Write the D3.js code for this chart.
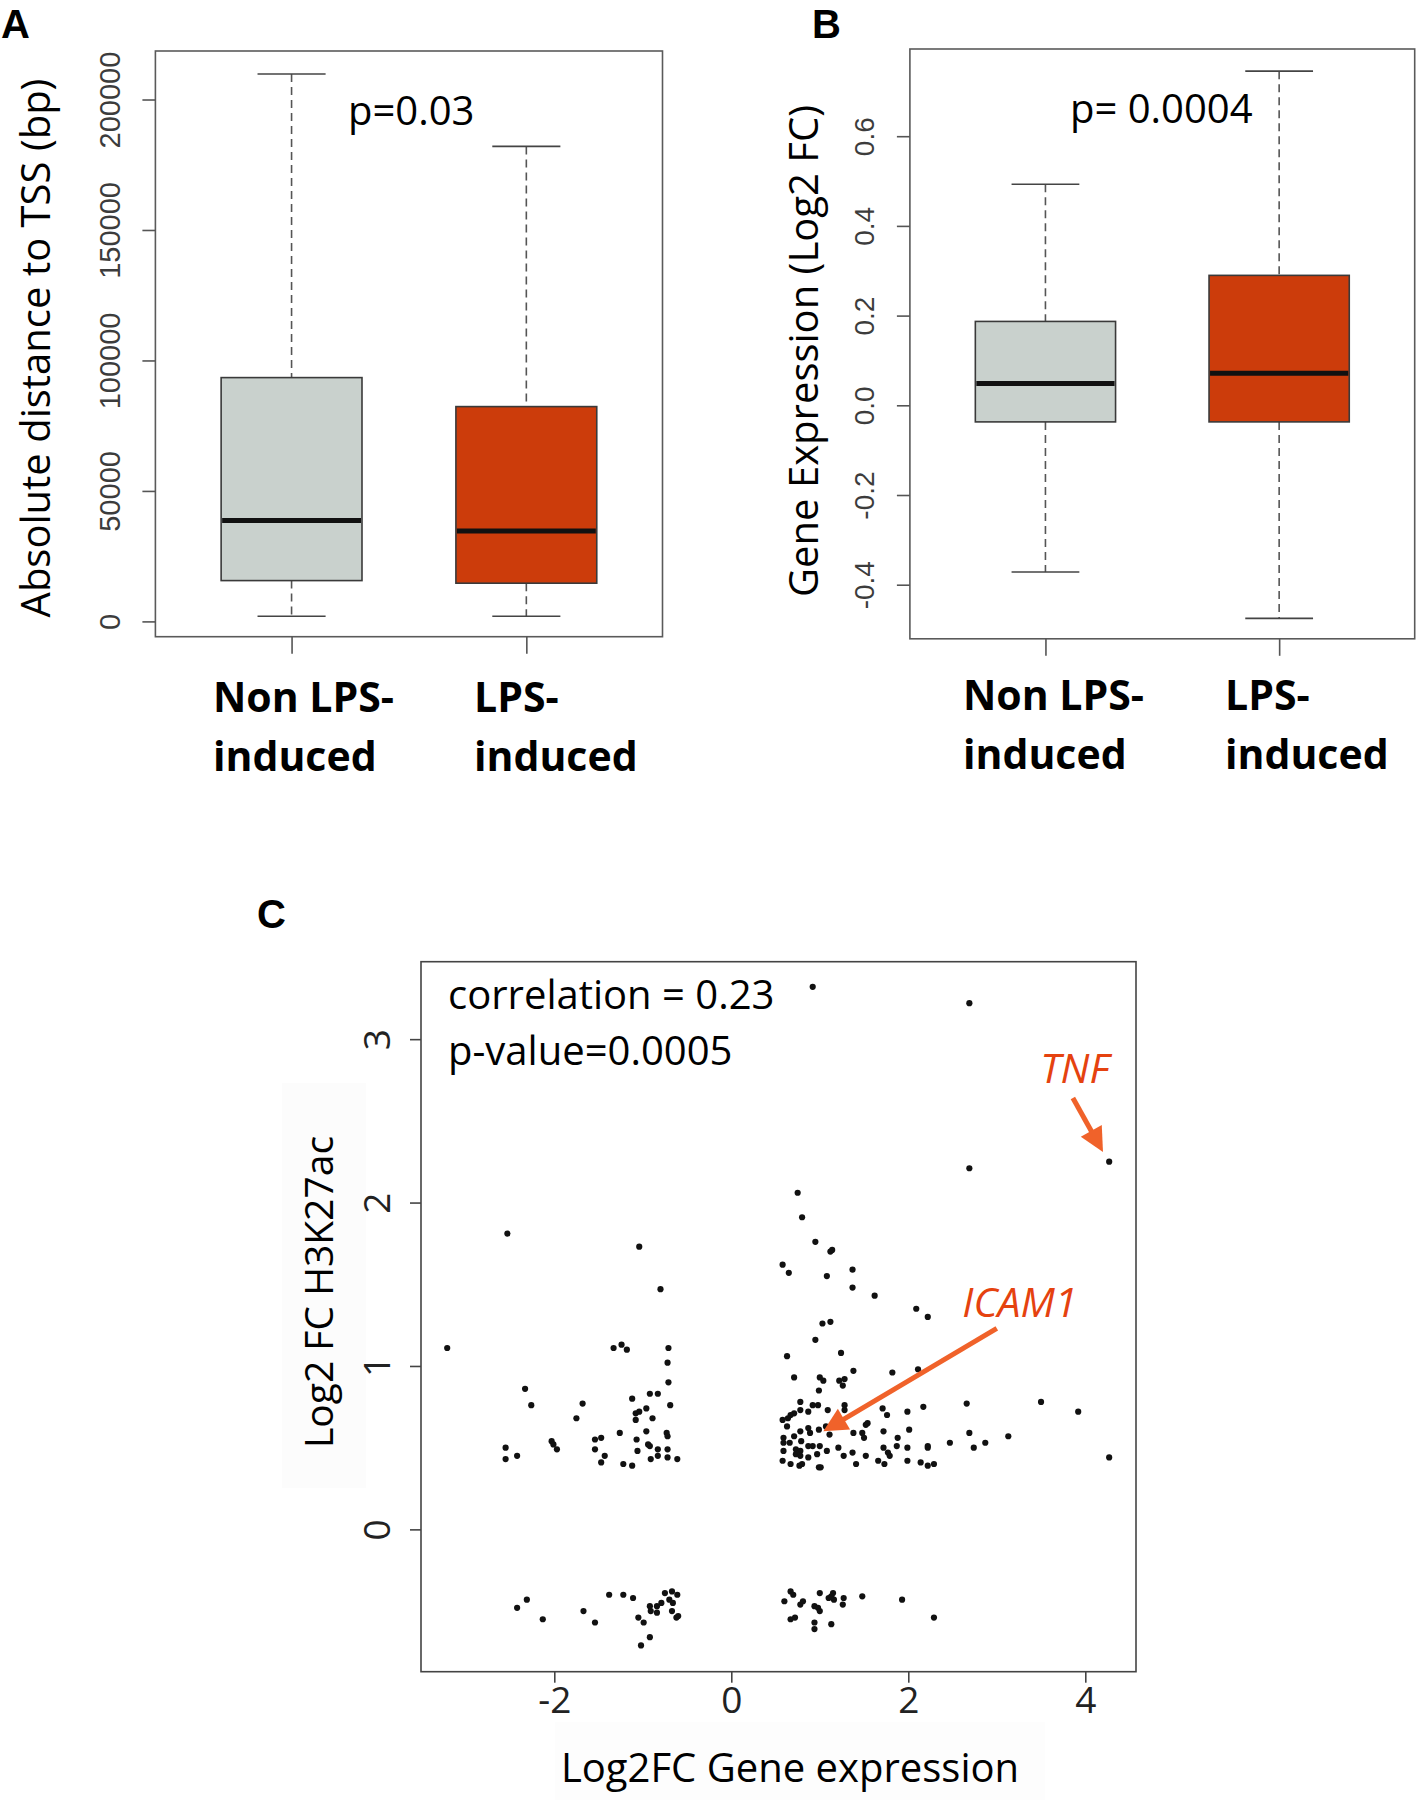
<!DOCTYPE html>
<html><head><meta charset="utf-8">
<script src="https://cdn.jsdelivr.net/npm/d3@7"></script>
<style>body{margin:0;background:#fff} svg{display:block}</style>
</head><body>
<svg id="chart" width="1417" height="1812"></svg>
<script>
// ---------------- DATA ----------------
const boxCategories = [["Non LPS-", "induced"], ["LPS-", "induced"]];
// [lower whisker, Q1, median, Q3, upper whisker]
const distanceNonLPS = [1950, 15640, 38700, 93430, 209780];
const distanceLPS    = [1950, 14640, 34600, 82320, 182030];
const distanceTicks  = [0, 50000, 100000, 150000, 200000];
const distanceTickLabels = ["0", "50000", "100000", "150000", "200000"];

const expressionNonLPS = [-0.3715, -0.037, 0.0485, 0.187, 0.493];
const expressionLPS    = [-0.475, -0.037, 0.0712, 0.2897, 0.745];
const expressionTicks  = [-0.4, -0.2, 0.0, 0.2, 0.4, 0.6];
const expressionTickLabels = ["-0.4", "-0.2", "0.0", "0.2", "0.4", "0.6"];

const boxFills = ["#c9d1cd", "#cc3c0b"];

// Panel C scatter: Log2FC gene expression (x) vs Log2FC H3K27ac (y)
const geneExprLog2FC = [
  0.92, 2.69, 2.69, 4.27,
  -2.53,-1.04,-0.80,-3.21,-1.33,-1.24,-1.18,-0.71,-0.72,-0.71,-2.33,-2.26,-1.68,-1.75,-1.12,-0.92,-0.83,-0.69,-1.08,-1.04,-0.96,-1.08,-0.89,-1.26,-0.96,-0.73,-0.72,-1.07,-0.94,-0.92,-0.83,-0.72,-0.83,-0.72,-0.61,-0.91,-1.06,-2.03,-2.01,-1.97,-1.54,-1.47,-1.54,-1.43,-1.47,-1.22,-1.12,-2.55,-2.55,-2.42,
  0.75,0.80,0.95,1.12,1.14,0.58,0.65,1.08,1.37,1.37,1.62,2.09,2.22,1.03,1.12,0.95,0.63,1.24,0.71,1.00,1.04,0.99,1.22,1.26,1.28,1.38,1.82,2.11,2.66,3.50,3.92,4.27,2.17,1.99,1.71,1.76,1.28,1.28,1.09,0.98,0.92,0.87,0.78,0.78,0.71,0.67,0.64,0.58,0.63,0.87,0.78,0.89,0.99,1.07,1.11,0.71,0.59,0.59,0.66,0.79,0.87,0.92,1.00,0.73,0.78,0.59,0.73,0.78,0.87,0.97,1.08,0.58,0.67,0.77,0.80,0.99,1.01,1.21,1.27,1.37,1.41,1.52,1.38,1.48,1.50,1.52,1.54,1.72,1.88,2.01,1.72,1.77,1.79,1.87,1.99,1.66,1.73,1.99,2.14,2.22,2.22,2.22,2.29,2.47,2.69,2.74,2.87,3.13,
  -2.42,-2.31,-2.13,-1.67,-1.54,-1.38,-1.22,-1.11,-1.05,-0.99,-0.92,-1.02,-0.92,-0.91,-0.84,-0.84,-0.79,-0.75,-0.67,-0.61,-0.70,-0.66,-0.67,-0.62,-0.60,
  0.60,0.67,0.70,0.78,0.81,0.67,0.72,0.94,0.98,1.00,0.94,0.94,1.00,1.13,1.10,1.15,1.16,1.13,1.27,1.26,1.48,1.93,2.29
];
const h3k27acLog2FC = [
  3.32, 3.22, 2.21, 2.25,
  1.81,1.73,1.47,1.11,1.11,1.13,1.10,1.11,1.02,0.90,0.86,0.76,0.77,0.68,0.80,0.83,0.83,0.76,0.71,0.72,0.74,0.67,0.68,0.59,0.60,0.59,0.57,0.55,0.52,0.51,0.49,0.49,0.45,0.44,0.43,0.43,0.48,0.54,0.52,0.49,0.55,0.56,0.49,0.45,0.41,0.40,0.39,0.50,0.43,0.45,
  2.06,1.91,1.76,1.70,1.71,1.62,1.57,1.55,1.59,1.48,1.43,1.35,1.30,1.26,1.27,1.16,1.06,1.08,0.93,0.93,0.91,0.85,0.91,0.88,0.92,0.97,0.96,0.98,0.77,0.78,0.72,0.44,0.75,0.72,0.74,0.70,0.76,0.73,0.73,0.76,0.76,0.72,0.78,0.73,0.71,0.70,0.68,0.67,0.63,0.62,0.60,0.59,0.61,0.63,0.58,0.57,0.56,0.53,0.53,0.54,0.51,0.51,0.51,0.49,0.48,0.48,0.46,0.45,0.44,0.46,0.48,0.42,0.40,0.39,0.40,0.38,0.38,0.50,0.45,0.47,0.40,0.45,0.59,0.59,0.56,0.64,0.65,0.60,0.56,0.61,0.50,0.47,0.45,0.51,0.50,0.42,0.40,0.42,0.41,0.51,0.50,0.39,0.40,0.53,0.59,0.50,0.53,0.57,
  -0.48,-0.43,-0.55,-0.50,-0.57,-0.40,-0.40,-0.42,-0.54,-0.57,-0.66,-0.71,-0.47,-0.50,-0.47,-0.51,-0.45,-0.39,-0.38,-0.40,-0.43,-0.45,-0.50,-0.54,-0.53,
  -0.44,-0.38,-0.40,-0.46,-0.44,-0.55,-0.54,-0.47,-0.48,-0.50,-0.57,-0.61,-0.39,-0.58,-0.42,-0.39,-0.43,-0.41,-0.42,-0.46,-0.41,-0.43,-0.54
];
const scatterXTicks = [-2, 0, 2, 4];
const scatterXTickLabels = ["-2", "0", "2", "4"];
const scatterYTicks = [0, 1, 2, 3];
const scatterYTickLabels = ["0", "1", "2", "3"];
// annotations: [label, label x, label y, arrow start x, arrow start y, arrow tip x, arrow tip y] in data units
const annotations = [
  ["TNF", 3.49, 2.73, 3.86, 2.64, 4.20, 2.31],
  ["ICAM1", 2.61, 1.30, 3.00, 1.23, 1.04, 0.60]
];

// ---------------- DRAWING ----------------
const svg = d3.select("#chart");
svg.append("rect").attr("width", 1417).attr("height", 1812).attr("fill", "#fff");
const SANS = "'Open Sans', sans-serif";
const ARIAL = "'Liberation Sans', Arial, sans-serif";

function boxPanel(cfg) {
  const x = d3.scaleLinear().domain([0.42, 2.58]).range([cfg.left, cfg.right]);
  const y = d3.scaleLinear().domain(cfg.yDomain).range([cfg.bottom, cfg.top]);
  const g = svg.append("g");
  const bw = 0.6, sw = 0.145;
  cfg.stats.forEach((s, i) => {
    const c = i + 1, cx = x(c);
    g.append("line").attr("x1", cx).attr("x2", cx).attr("y1", y(s[4])).attr("y2", y(s[3]))
      .attr("stroke", "#555").attr("stroke-width", 1.6).attr("stroke-dasharray", "8,5");
    g.append("line").attr("x1", cx).attr("x2", cx).attr("y1", y(s[1])).attr("y2", y(s[0]))
      .attr("stroke", "#555").attr("stroke-width", 1.6).attr("stroke-dasharray", "8,5");
    [s[0], s[4]].forEach(v => g.append("line").attr("x1", x(c - sw)).attr("x2", x(c + sw))
      .attr("y1", y(v)).attr("y2", y(v)).attr("stroke", "#444").attr("stroke-width", 1.6));
    g.append("rect").attr("x", x(c - bw / 2)).attr("width", x(c + bw / 2) - x(c - bw / 2))
      .attr("y", y(s[3])).attr("height", y(s[1]) - y(s[3]))
      .attr("fill", cfg.fills[i]).attr("stroke", "#3a3a3a").attr("stroke-width", 1.6);
    g.append("line").attr("x1", x(c - bw / 2) + 1).attr("x2", x(c + bw / 2) - 1)
      .attr("y1", y(s[2])).attr("y2", y(s[2])).attr("stroke", "#111").attr("stroke-width", 5);
  });
  g.append("rect").attr("x", cfg.left).attr("y", cfg.top).attr("width", cfg.right - cfg.left)
    .attr("height", cfg.bottom - cfg.top).attr("fill", "none").attr("stroke", "#5a5a5a").attr("stroke-width", 1.6);
  // y axis
  const ya = g.append("g").attr("transform", `translate(${cfg.left},0)`)
    .call(d3.axisLeft(y).tickValues(cfg.ticks).tickFormat((d, i) => cfg.tickLabels[i]).tickSize(13));
  ya.select(".domain").remove();
  ya.selectAll(".tick line").attr("stroke", "#555").attr("stroke-width", 1.6);
  ya.selectAll(".tick text").attr("x", null).attr("dy", null).attr("text-anchor", "middle")
    .attr("transform", `translate(${-cfg.labelOffset},0) rotate(-90)`)
    .attr("font-family", ARIAL).attr("font-size", cfg.tickFont).attr("fill", "#3c3c3c");
  // x ticks
  const xa = g.append("g").attr("transform", `translate(0,${cfg.bottom})`)
    .call(d3.axisBottom(x).tickValues([1, 2]).tickFormat("").tickSize(17));
  xa.select(".domain").remove();
  xa.selectAll(".tick line").attr("stroke", "#555").attr("stroke-width", 1.6);
  // category labels
  boxCategories.forEach((lines, i) => {
    const t = g.append("text").attr("font-family", SANS).attr("font-weight", 700)
      .attr("font-size", 41).attr("fill", "#000");
    lines.forEach((ln, j) => t.append("tspan").attr("x", cfg.catX[i]).attr("y", cfg.catY[j]).text(ln));
  });
  // y title
  g.append("text").attr("transform", `translate(${cfg.titleX},${cfg.titleCY}) rotate(-90)`)
    .attr("text-anchor", "middle").attr("font-family", SANS).attr("font-size", 40).attr("fill", "#000")
    .text(cfg.title);
  // p value
  g.append("text").attr("x", cfg.pX).attr("y", cfg.pY).attr("font-family", SANS)
    .attr("font-size", cfg.pFont).attr("fill", "#000").text(cfg.pText);
  // panel letter
  g.append("text").attr("x", cfg.letterX).attr("y", 38).attr("font-family", ARIAL)
    .attr("font-weight", 700).attr("font-size", 40).attr("fill", "#000").text(cfg.letter);
}

boxPanel({
  left: 155.4, right: 662.5, top: 51, bottom: 636.7,
  yDomain: [-5863, 218590], stats: [distanceNonLPS, distanceLPS], fills: boxFills,
  ticks: distanceTicks, tickLabels: distanceTickLabels, tickFont: 29, labelOffset: 35.5,
  catX: [213, 474], catY: [712, 771],
  title: "Absolute distance to TSS (bp)", titleX: 50, titleCY: 348,
  pText: "p=0.03", pX: 348, pY: 125, pFont: 40, letter: "A", letterX: 1
});
boxPanel({
  left: 909.9, right: 1414.7, top: 49, bottom: 638.8,
  yDomain: [-0.5206, 0.7944], stats: [expressionNonLPS, expressionLPS], fills: boxFills,
  ticks: expressionTicks, tickLabels: expressionTickLabels, tickFont: 28, labelOffset: 36,
  catX: [963, 1225], catY: [710, 769],
  title: "Gene Expression (Log2 FC)", titleX: 818, titleCY: 351,
  pText: "p= 0.0004", pX: 1070, pY: 123, pFont: 40, letter: "B", letterX: 812
});

// ---------------- Panel C ----------------
const cL = 421, cR = 1136, cT = 961.7, cB = 1671.7;
const xC = d3.scaleLinear().domain([-3.506, 4.573]).range([cL, cR]);
const yC = d3.scaleLinear().domain([-0.871, 3.474]).range([cB, cT]);
const gc = svg.append("g");
// very faint label backdrops (as in reference)
gc.append("rect").attr("x", 282).attr("y", 1083).attr("width", 84).attr("height", 405).attr("fill", "#fcfcfc");
gc.append("rect").attr("x", 555).attr("y", 1722).attr("width", 490).attr("height", 78).attr("fill", "#fdfdfd");

gc.selectAll("circle.pt").data(d3.range(geneExprLog2FC.length)).join("circle")
  .attr("class", "pt").attr("cx", i => xC(geneExprLog2FC[i])).attr("cy", i => yC(h3k27acLog2FC[i]))
  .attr("r", 3.1).attr("fill", "#111");

gc.append("rect").attr("x", cL).attr("y", cT).attr("width", cR - cL).attr("height", cB - cT)
  .attr("fill", "none").attr("stroke", "#444").attr("stroke-width", 1.6);

const xaC = gc.append("g").attr("transform", `translate(0,${cB})`)
  .call(d3.axisBottom(xC).tickValues(scatterXTicks).tickFormat((d, i) => scatterXTickLabels[i])
    .tickSize(11).tickPadding(4));
xaC.select(".domain").remove();
xaC.selectAll(".tick line").attr("stroke", "#444").attr("stroke-width", 1.6);
xaC.selectAll(".tick text").attr("font-family", SANS).attr("font-size", 37).attr("fill", "#222");

const yaC = gc.append("g").attr("transform", `translate(${cL},0)`)
  .call(d3.axisLeft(yC).tickValues(scatterYTicks).tickFormat((d, i) => scatterYTickLabels[i]).tickSize(11));
yaC.select(".domain").remove();
yaC.selectAll(".tick line").attr("stroke", "#444").attr("stroke-width", 1.6);
yaC.selectAll(".tick text").attr("x", null).attr("dy", null).attr("text-anchor", "middle")
  .attr("transform", "translate(-31,0) rotate(-90)")
  .attr("font-family", SANS).attr("font-size", 37).attr("fill", "#222");

gc.append("text").attr("x", 790).attr("y", 1782).attr("text-anchor", "middle")
  .attr("font-family", SANS).attr("font-size", 40).attr("fill", "#000").text("Log2FC Gene expression");
gc.append("text").attr("transform", "translate(333,1292) rotate(-90)").attr("text-anchor", "middle")
  .attr("font-family", SANS).attr("font-size", 39).attr("fill", "#000").text("Log2 FC H3K27ac");
gc.append("text").attr("x", 448).attr("y", 1009).attr("font-family", SANS).attr("font-size", 40)
  .attr("fill", "#000").text("correlation = 0.23");
gc.append("text").attr("x", 448).attr("y", 1065).attr("font-family", SANS).attr("font-size", 40)
  .attr("fill", "#000").text("p-value=0.0005");
gc.append("text").attr("x", 257).attr("y", 928).attr("font-family", ARIAL).attr("font-weight", 700)
  .attr("font-size", 40).attr("fill", "#000").text("C");

annotations.forEach(a => {
  const [lab, lx, ly, sx, sy, tx, ty] = a;
  gc.append("text").attr("x", xC(lx)).attr("y", yC(ly)).attr("font-family", SANS)
    .attr("font-style", "italic").attr("font-size", 41).attr("fill", "#e5420f").text(lab);
  const x1 = xC(sx), y1 = yC(sy), x2 = xC(tx), y2 = yC(ty);
  const dx = x2 - x1, dy = y2 - y1, L = Math.hypot(dx, dy), ux = dx / L, uy = dy / L;
  const hl = 24, hw = 12;
  const bx = x2 - ux * hl, by = y2 - uy * hl;
  gc.append("line").attr("x1", x1).attr("y1", y1).attr("x2", bx + ux * 2).attr("y2", by + uy * 2)
    .attr("stroke", "#f0622a").attr("stroke-width", 5);
  gc.append("polygon").attr("points", [[x2, y2], [bx - uy * hw, by + ux * hw], [bx + uy * hw, by - ux * hw]].map(p => p.join(",")).join(" "))
    .attr("fill", "#f0622a");
});
</script>
</body></html>
